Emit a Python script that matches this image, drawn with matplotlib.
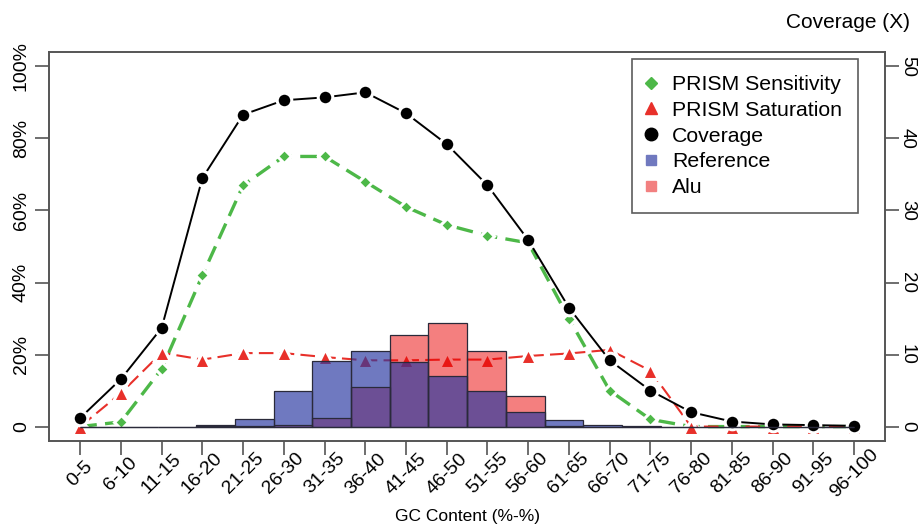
import numpy as np
import matplotlib
matplotlib.use('Agg')
import matplotlib.pyplot as plt
from matplotlib.lines import Line2D

plt.rcParams['font.family'] = ['Liberation Sans', 'DejaVu Sans']

categories = ['0-5', '6-10', '11-15', '16-20', '21-25', '26-30', '31-35', '36-40',
              '41-45', '46-50', '51-55', '56-60', '61-65', '66-70', '71-75', '76-80',
              '81-85', '86-90', '91-95', '96-100']
# percent (left axis)
sensitivity = [0, 1.3, 16, 42, 67, 75, 75, 68, 61, 56, 53, 51, 30, 10, 2, 0, 0, 0, 0, 0]
saturation = [0, 9.3, 20.5, 18.6, 20.4, 20.4, 19.3, 18.4, 18.4, 18.6, 18.6, 19.6, 20.3, 21.3,
              15.5, 0, 0, 0, 0, 0]
reference = [0, 0, 0, 0.3, 2.1, 9.8, 18.3, 21.1, 17.9, 14.1, 9.9, 4.0, 1.9, 0.3, 0.15,
             0, 0, 0, 0, 0]
alu = [0, 0, 0, 0.1, 0.1, 0.3, 2.4, 11.0, 25.5, 28.7, 21.1, 8.4, 0.1, 0, 0, 0, 0, 0, 0, 0]
# coverage in X (right axis)
coverage = [1.2, 6.6, 13.7, 34.5, 43.3, 45.3, 45.7, 46.4, 43.5, 39.2, 33.5, 25.9, 16.5, 9.2,
            5.0, 2.0, 0.7, 0.3, 0.2, 0.1]

green = '#4db848'
red = '#e8302a'
blue_c = (0.16, 0.22, 0.63)
alu_c = (0.92, 0.0, 0.0)
grey = '#555555'

fig = plt.figure(figsize=(9.19, 5.28), dpi=100)
pos = [0.0536, 0.1648, 0.963 - 0.0536, 0.9015 - 0.1648]
ax = fig.add_axes(pos)
ax2 = ax.twinx()
axb = fig.add_axes(pos)
axb.patch.set_alpha(0)

x = np.arange(len(categories))
ax.set_xlim(-0.76, len(categories) - 1 + 0.76)
ax.set_ylim(-4, 104)
ax2.set_ylim(-2, 52)

gap = dict(markeredgecolor='white', markeredgewidth=2.2)
ax2.plot(x, coverage, color='black', lw=1.4, marker='o', ms=10.5, zorder=3, **gap)
ax.plot(x, sensitivity, color=green, lw=2.4, ls=(0, (5, 2.5)), marker='D', ms=7, zorder=3, **gap)
ax.plot(x, saturation, color=red, lw=1.5, ls=(0, (7, 3)), marker='^', ms=11, zorder=3, **gap)
ax.set_zorder(1)
ax2.set_zorder(2)
axb.set_zorder(3)

# bars live on their own scale (barplot-style positions)
kb = np.arange(len(categories))
axb.set_xlim(-0.8, len(categories) + 0.8)
axb.set_ylim(-4, 104)
axb.bar(kb + 0.5, alu, width=1, color=alu_c, alpha=0.5, edgecolor='none')
axb.bar(kb + 0.5, reference, width=1, color=blue_c, alpha=0.67, edgecolor='none')
axb.bar(kb + 0.5, alu, width=1, fill=False, edgecolor='#2a2a3a', lw=0.9)
axb.bar(kb + 0.5, reference, width=1, fill=False, edgecolor='#2a2a3a', lw=0.9)
axb.axis('off')

for a in (ax, ax2):
    for s in a.spines.values():
        s.set_color(grey)
        s.set_linewidth(1.2)

ax.set_xticks(x)
ax.set_xticklabels(categories, rotation=45, ha='center', va='center', rotation_mode='anchor',
                   fontsize=14)
ax.set_yticks([0, 20, 40, 60, 80, 100])
ax.set_yticklabels(['0', '20%', '40%', '60%', '80%', '100%'], rotation=90, va='center',
                   fontsize=14)
ax2.set_yticks([0, 10, 20, 30, 40, 50])
ax2.set_yticklabels(['0', '10', '20', '30', '40', '50'], rotation=-90, va='center',
                    fontsize=13.5)
ax.tick_params(axis='both', length=10, width=1.2, color=grey, pad=4)
ax.tick_params(axis='x', pad=13.5)
ax2.tick_params(axis='y', length=10, width=1.2, color=grey, pad=0)

fig.text(pos[0] + pos[2] / 2, 1 - 517 / 528, 'GC Content (%-%)', ha='center', va='center',
         fontsize=12.5)
fig.text(0.99, 0.958, 'Coverage (X)', ha='right', va='center', fontsize=15)

handles = [
    Line2D([], [], ls='none', marker='D', ms=6, color=green),
    Line2D([], [], ls='none', marker='^', ms=9, color=red),
    Line2D([], [], ls='none', marker='o', ms=9, color='black'),
    Line2D([], [], ls='none', marker='s', ms=7.5, color='#7079bf'),
    Line2D([], [], ls='none', marker='s', ms=7.5, color='#f28080'),
]
labels = ['PRISM Sensitivity', 'PRISM Saturation', 'Coverage', 'Reference', 'Alu']
leg = fig.legend(handles, labels, loc='upper right', bbox_to_anchor=(858 / 919, 1 - 59 / 528),
                 fontsize=15.3, frameon=True, fancybox=False, edgecolor='#333333',
                 borderaxespad=0, handlelength=0.3, handletextpad=0.85, labelspacing=0.32,
                 borderpad=0.75)
leg.get_frame().set_linewidth(1.2)

fig.savefig('out.png', dpi=100)
